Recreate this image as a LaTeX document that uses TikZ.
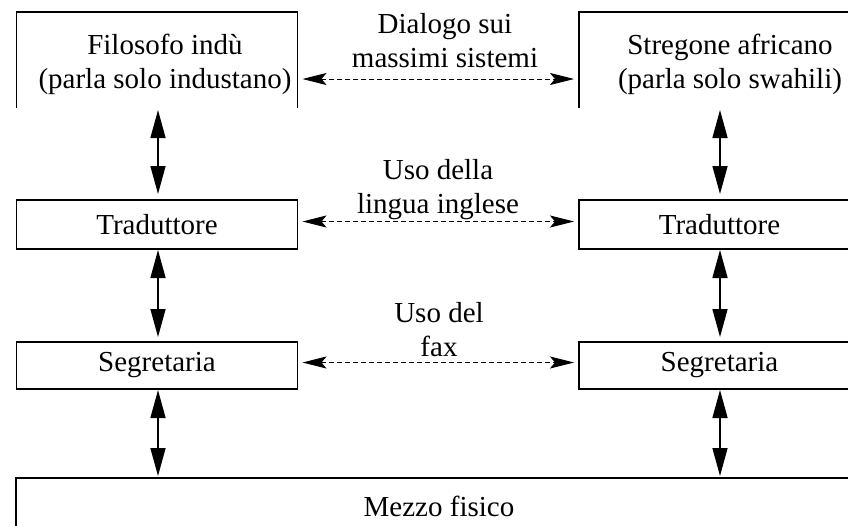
\documentclass[tikz,border=0pt]{standalone}
\usepackage{fontspec}
\setmainfont{Liberation Serif}
\usetikzlibrary{arrows.meta}
\begin{document}
\begin{tikzpicture}[x=1pt,y=-1pt,
  every node/.style={font=\fontsize{29}{34}\selectfont, inner sep=0pt, outer sep=0pt},
  box/.style={draw, line width=1.6pt, minimum width=281pt, minimum height=48pt},
  openbox/.style={minimum width=281pt, minimum height=96pt},
  lbl/.style={align=center},
  vconn/.style={line width=1.5pt, {Triangle[length=28pt,width=15pt]}-{Triangle[length=28pt,width=15pt]}},
  hconn/.style={line width=1pt, dash pattern=on 5pt off 3pt,
    {Stealth[length=24pt,width=12pt,inset=5pt]}-{Stealth[length=24pt,width=12pt,inset=5pt]},
    shorten <=5pt, shorten >=5pt}
]
\useasboundingbox (0,0) rectangle (848,525);
\clip (0,0) rectangle (848,525);

% top open boxes
\node[openbox] (topL) at (157,60) {};
\node[openbox] (topR) at (719.5,60) {};
\draw[line width=1.6pt] (topL.south west) -- (topL.north west) -- (topL.north east) -- (topL.south east);
\draw[line width=1.6pt] (topR.south west) -- (topR.north west) -- (topR.north east) -- (topR.south east);
\node[lbl] (topLtxt) at (165,64) {Filosofo indù\\(parla solo industano)};
\node[lbl] (topRtxt) at (730,64) {Stregone africano\\(parla solo swahili)};

% middle boxes
\node[box, minimum height=49pt] (tradL) at (157,224.5) {Traduttore};
\node[box, minimum height=49pt] (tradR) at (719.5,224.5) {Traduttore};
\node[box, minimum height=47pt] (segL) at (157,365.5) {Segretaria};
\node[box, minimum height=47pt] (segR) at (719.5,365.5) {Segretaria};

% physical medium
\node[draw, line width=1.6pt, minimum width=844pt, minimum height=104pt] (mezzo) at (438,530) {};
\node (mezzotxt) at (439,506) {Mezzo fisico};

% labels
\node[lbl] (lab1) at (445,41) {Dialogo sui\\massimi sistemi};
\node[lbl] (lab2) at (438,190) {Uso della\\lingua inglese};
\node[lbl] (lab3) at (439,330) {Uso del\\fax};

% horizontal dashed connectors
\draw[hconn] ([yshift=-19pt]topL.east) -- ([yshift=-19pt]topR.west);
\draw[hconn] ([yshift=3pt]tradL.east) -- ([yshift=3pt]tradR.west);
\draw[hconn] ([yshift=3pt]segL.east) -- ([yshift=3pt]segR.west);

% vertical connectors
\draw[vconn, shorten <=2pt, shorten >=6pt] ([xshift=1pt]topL.south) -- ([xshift=1pt]tradL.north);
\draw[vconn, shorten <=2pt, shorten >=6pt] ([xshift=0.5pt]topR.south) -- ([xshift=0.5pt]tradR.north);
\draw[vconn, shorten <=1pt, shorten >=5pt] ([xshift=1pt]tradL.south) -- ([xshift=1pt]segL.north);
\draw[vconn, shorten <=1pt, shorten >=5pt] ([xshift=0.5pt]tradR.south) -- ([xshift=0.5pt]segR.north);
\draw[vconn, shorten <=1pt, shorten >=2pt] ([xshift=1pt]segL.south) -- ([xshift=1pt]segL.south |- mezzo.north);
\draw[vconn, shorten <=1pt, shorten >=2pt] ([xshift=0.5pt]segR.south) -- ([xshift=0.5pt]segR.south |- mezzo.north);
\end{tikzpicture}
\end{document}
